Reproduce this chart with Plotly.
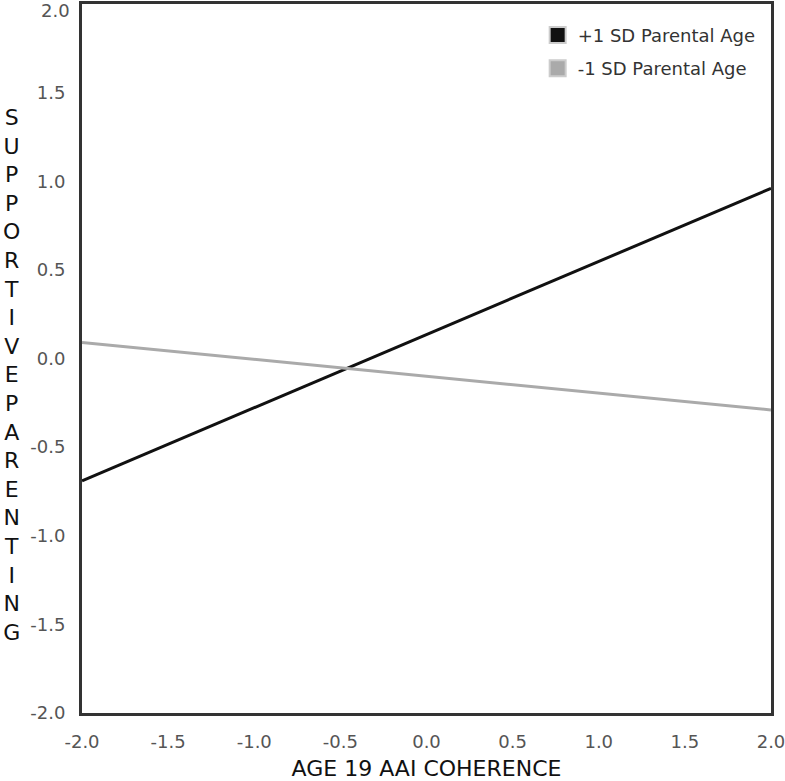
import plotly.graph_objects as go

x_vals = [-2.0, 2.0]
plus_sd = [-0.69, 0.96]
minus_sd = [0.09, -0.29]
series_names = ["+1 SD Parental Age", "-1 SD Parental Age"]
tick_vals = [-2.0, -1.5, -1.0, -0.5, 0.0, 0.5, 1.0, 1.5, 2.0]
tick_text = ["-2.0", "-1.5", "-1.0", "-0.5", "0.0", "0.5", "1.0", "1.5", "2.0"]
y_title = "SUPPORTIVEPARENTING"
x_title = "AGE 19 AAI COHERENCE"

colors = ["#111111", "#aaaaaa"]

fig = go.Figure()
for name, ys, c in zip(series_names, [plus_sd, minus_sd], colors):
    fig.add_trace(go.Scatter(x=x_vals, y=ys, mode="lines", line=dict(color=c, width=3),
                             showlegend=False, hoverinfo="skip"))
for name, c in zip(series_names, colors):
    fig.add_trace(go.Scatter(x=[None], y=[None], mode="markers", name=name, legendgroup=name,
                             marker=dict(symbol="square", size=16, color=c,
                                         line=dict(color="#cccccc", width=2))))

# top y tick label drawn separately so it stays inside the page
y_ticktext = tick_text[:-1] + [""]

fig.update_layout(
    width=785, height=781,
    margin=dict(l=82, r=14, t=4, b=68, autoexpand=False),
    plot_bgcolor="white", paper_bgcolor="white",
    font=dict(family="DejaVu Sans", size=18, color="#555555"),
    showlegend=True,
    legend=dict(x=0.985, y=0.982, xanchor="right", yanchor="top",
                bgcolor="rgba(255,255,255,0)", font=dict(size=18, color="#333333"),
                tracegroupgap=7),
    xaxis=dict(range=[-2, 2], tickvals=tick_vals, ticktext=tick_text, showgrid=False,
               zeroline=False, showline=True, linecolor="#333333", linewidth=3, mirror=True,
               ticks="", automargin=False, ticklabeloverflow="allow", ticklabelstandoff=10,
               title=dict(text=x_title, font=dict(size=22, color="#111111"), standoff=15)),
    yaxis=dict(range=[-2, 2], tickvals=tick_vals, ticktext=y_ticktext, showgrid=False,
               zeroline=False, showline=True, linecolor="#333333", linewidth=3, mirror=True,
               ticks="", automargin=False, ticklabeloverflow="allow", ticklabelstandoff=10),
)
fig.add_annotation(text=tick_text[-1], xref="paper", yref="y", x=0, y=tick_vals[-1],
                   xanchor="right", yanchor="top", xshift=-10, yshift=6, showarrow=False,
                   font=dict(family="DejaVu Sans", size=18, color="#555555"))
fig.add_annotation(text="<br>".join(list(y_title)), xref="paper", yref="paper",
                   x=-0.102, y=0.5, xanchor="center", yanchor="middle", yshift=-16,
                   showarrow=False,
                   font=dict(family="DejaVu Sans", size=22, color="#111111"))
fig.write_html("out.html", config={"displayModeBar": False},
               post_script="document.body.style.margin='0';")
